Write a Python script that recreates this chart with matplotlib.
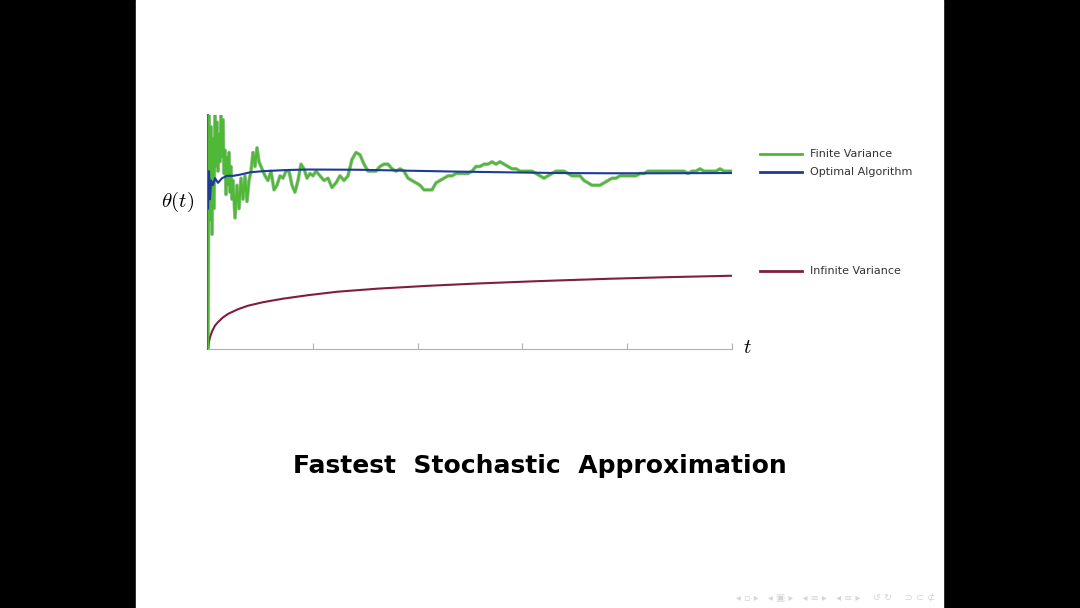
import matplotlib.pyplot as plt
from matplotlib.lines import Line2D
from matplotlib.patches import Rectangle

plt.rcParams["mathtext.fontset"] = "cm"

# data (t in axis units 0..524, theta in 0..1)
green_t = (list(range(0, 26)) + list(range(27, 52, 2)) + list(range(54, 94, 3))
           + list(range(96, 109, 3)) + list(range(112, 521, 4)) + [523])
green_theta = [
    0.00, 1.00, 0.55, 0.95, 0.49, 0.90, 0.60, 1.00, 0.78, 0.97,
    0.76, 0.92, 0.80, 1.00, 0.82, 0.98, 0.75, 0.85, 0.66, 0.82,
    0.70, 0.84, 0.67, 0.78, 0.64, 0.72, 0.56, 0.70, 0.60, 0.73,
    0.64, 0.74, 0.63, 0.72, 0.76, 0.84, 0.78, 0.86, 0.80, 0.77,
    0.74, 0.72, 0.76, 0.68, 0.70, 0.74, 0.73, 0.76, 0.76, 0.70,
    0.67, 0.72, 0.79, 0.77, 0.73, 0.75, 0.74, 0.76, 0.74, 0.72,
    0.73, 0.69, 0.71, 0.74, 0.72, 0.74, 0.81, 0.84, 0.83, 0.79,
    0.76, 0.76, 0.76, 0.78, 0.79, 0.79, 0.77, 0.76, 0.77, 0.76,
    0.73, 0.72, 0.71, 0.70, 0.68, 0.68, 0.68, 0.71, 0.72, 0.73,
    0.74, 0.74, 0.75, 0.75, 0.75, 0.75, 0.76, 0.78, 0.78, 0.79,
    0.79, 0.80, 0.79, 0.80, 0.79, 0.78, 0.77, 0.77, 0.76, 0.76,
    0.76, 0.76, 0.75, 0.74, 0.73, 0.74, 0.75, 0.76, 0.76, 0.76,
    0.75, 0.74, 0.74, 0.74, 0.72, 0.71, 0.70, 0.70, 0.70, 0.71,
    0.72, 0.73, 0.73, 0.74, 0.74, 0.74, 0.74, 0.74, 0.75, 0.75,
    0.76, 0.76, 0.76, 0.76, 0.76, 0.76, 0.76, 0.76, 0.76, 0.76,
    0.75, 0.76, 0.76, 0.77, 0.76, 0.76, 0.76, 0.76, 0.77, 0.76,
    0.76, 0.76,
]

blue_t = [0, 1, 2, 3, 5, 7, 10, 14, 19, 25, 32, 42, 55, 80, 100,
          150, 200, 250, 300, 350, 400, 450, 523]
blue_theta = [0.60, 0.76, 0.64, 0.72, 0.70, 0.73, 0.71, 0.73, 0.74, 0.74,
              0.745, 0.755, 0.76, 0.765, 0.767, 0.766, 0.762, 0.758, 0.755,
              0.752, 0.751, 0.751, 0.752]

red_t = [0, 1, 2, 4, 7, 10, 15, 20, 30, 40, 55, 75, 100, 130, 170, 220,
         270, 330, 400, 460, 523]
red_theta = [0.0, 0.03, 0.05, 0.075, 0.10, 0.115, 0.135, 0.15, 0.17, 0.185,
             0.20, 0.215, 0.23, 0.245, 0.258, 0.27, 0.28, 0.29, 0.30, 0.307,
             0.313]

labels = ["Finite Variance", "Optimal Algorithm", "Infinite Variance"]
colors = ["#4fb836", "#1c3a96", "#801e3c"]

fig = plt.figure(figsize=(10.8, 6.08), dpi=100, facecolor="black")
# white slide area between the black side bars
fig.patches.append(Rectangle((136 / 1080, 0), 807 / 1080, 1,
                             transform=fig.transFigure, color="white", zorder=-1))

ax = fig.add_axes([208 / 1080, 259 / 608, 524 / 1080, 234 / 608])
ax.set_facecolor("none")
ax.plot(red_t, red_theta, color=colors[2], lw=1.5, zorder=2)
ax.plot(green_t, green_theta, color="#3f8f3a", lw=2.6, alpha=0.5, zorder=3)
ax.plot(green_t, green_theta, color=colors[0], lw=1.6, zorder=3)
ax.plot(blue_t, blue_theta, color=colors[1], lw=1.5, zorder=4)

ax.set_xlim(0, 524)
ax.set_ylim(0, 1)
for s in ["top", "right"]:
    ax.spines[s].set_visible(False)
ax.spines["bottom"].set_color("#b0b0b0")
ax.spines["left"].set_color("#2e7d6a")
ax.spines["left"].set_linewidth(1.5)
ax.set_xticks([104.8, 209.6, 314.4, 419.2, 524])
ax.set_xticklabels([])
ax.set_yticks([])
ax.tick_params(axis="x", direction="in", length=4, color="#b0b0b0")

fig.text(178 / 1080, 1 - 202 / 608, r"$\theta(t)$", fontsize=15,
         ha="center", va="center")
fig.text(747 / 1080, 1 - 347 / 608, r"$t$", fontsize=15,
         ha="center", va="center")

# legend entries beside the plot
leg_y = [154, 172, 271]
for lab, c, y in zip(labels, colors, leg_y):
    fig.lines.append(Line2D([760 / 1080, 802 / 1080], [1 - y / 608] * 2,
                            transform=fig.transFigure, color=c, lw=2.0))
    fig.text(810 / 1080, 1 - y / 608, lab, fontsize=8, color="#333333",
             ha="left", va="center")

fig.text(540 / 1080, 1 - 466 / 608, "Fastest  Stochastic  Approximation",
         fontsize=18, fontweight="bold", ha="center", va="center")

# faint beamer navigation symbols
fig.text(935 / 1080, 1 - 598 / 608,
         "◂ ▫ ▸   ◂ ▣ ▸   ◂ ≡ ▸   ◂ ≡ ▸    ↺ ↻    ⊃ ⊂ ⊄",
         fontsize=7, color="#d5d5dc", ha="right", va="center")

fig.savefig("out.png", dpi=100, facecolor="black")
